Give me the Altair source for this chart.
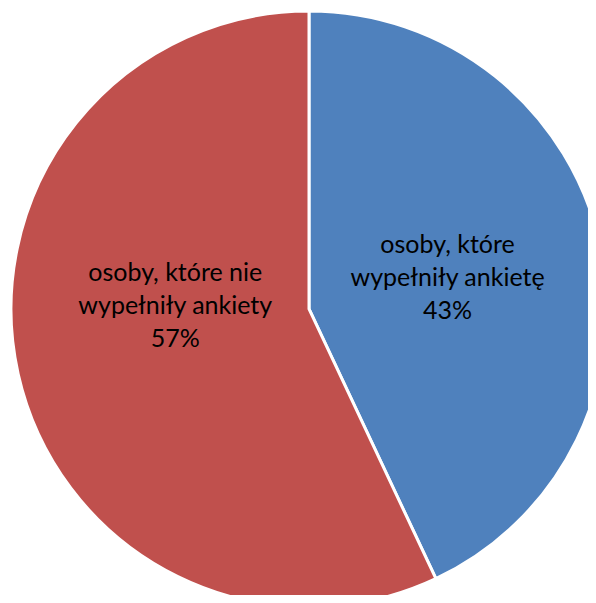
import altair as alt
import pandas as pd

categories = ["osoby, które\nwypełniły ankietę", "osoby, które nie\nwypełniły ankiety"]
values = [43, 57]
colors = ["#4F81BD", "#C0504D"]

df = pd.DataFrame({"cat": categories, "val": values, "ord": [0, 1]})

base = alt.Chart(df).transform_calculate(
    label="datum.cat + '\\n' + datum.val + '%'"
)

CX, CY, R = 301, 301, 298

pie = base.mark_arc(stroke="white", strokeWidth=3).encode(
    theta=alt.Theta("val:Q", stack=True),
    order=alt.Order("ord:Q"),
    color=alt.Color("cat:N", scale=alt.Scale(domain=categories, range=colors), legend=None),
    x=alt.value(CX),
    y=alt.value(CY),
    radius=alt.value(R),
)

def label(i, dx, dy):
    return base.mark_text(
        font="Lato", fontSize=25, lineBreak="\n", lineHeight=33,
        color="black", align="center", baseline="middle", dx=dx, dy=dy,
    ).encode(
        theta=alt.Theta("val:Q", stack=True),
        order=alt.Order("ord:Q"),
        text=alt.condition(f"datum.ord == {i}", "label:N", alt.value("")),
        x=alt.value(CX),
        y=alt.value(CY),
        radius=alt.value(142 if i == 0 else 136),
    )

chart = alt.layer(pie, label(0, 0, -33), label(1, -1, -66)).properties(
    width=580, height=587, padding=0, autosize=alt.AutoSizeParams(type="none"),
).configure_view(stroke=None)

chart.save("out.html", embed_options={"renderer": "svg", "actions": False})
